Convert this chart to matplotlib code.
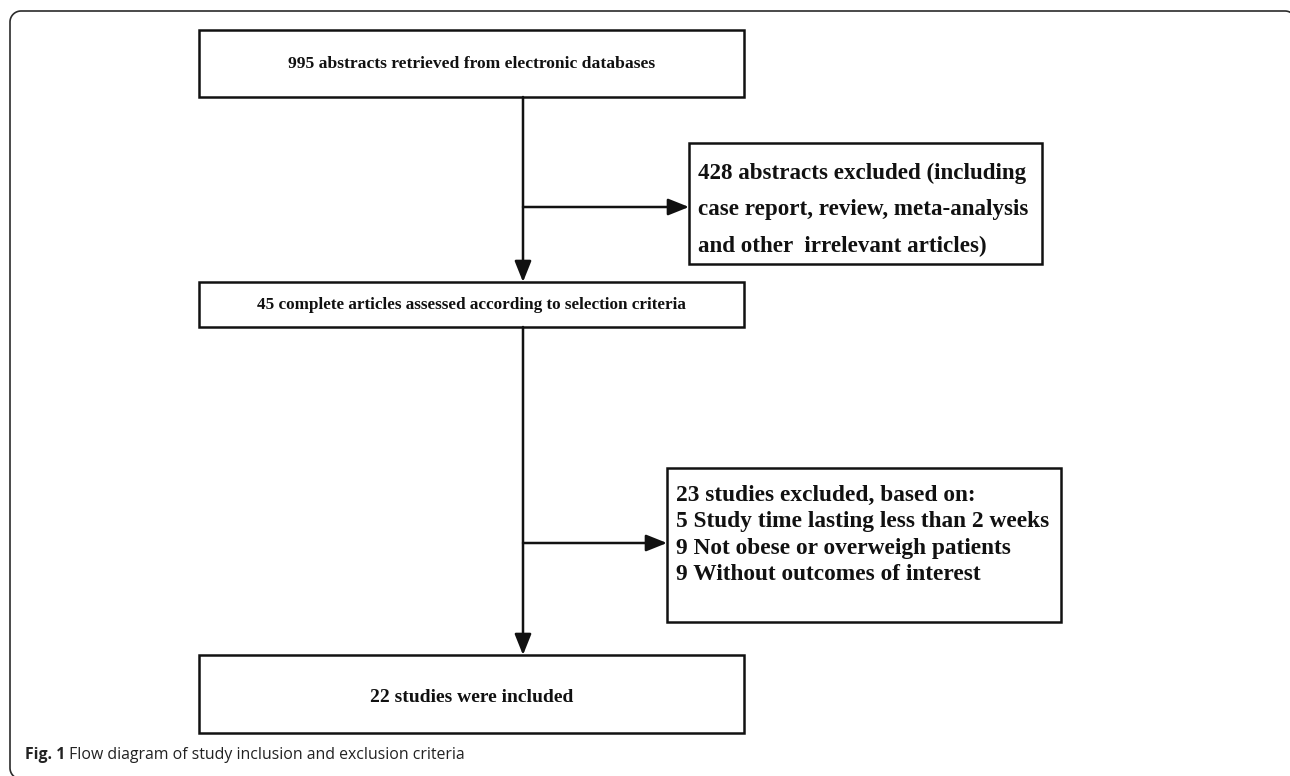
import numpy as np
import matplotlib.pyplot as plt
from matplotlib.patches import Rectangle

# counts from the flow diagram
n_retrieved = 995
n_abstract_excluded = 428
n_full_text = 45
n_study_excluded = 23
n_included = 22
reason_counts = [5, 9, 9]
reason_labels = ['Study time lasting less than 2 weeks',
                 'Not obese or overweigh patients',
                 'Without outcomes of interest']
caption_bold = 'Fig. 1'
caption_text = ' Flow diagram of study inclusion and exclusion criteria'

texts = {
    'top': f'{n_retrieved} abstracts retrieved from electronic databases',
    'excl1': (f'{n_abstract_excluded} abstracts excluded (including\n'
              'case report, review, meta-analysis\n'
              'and other  irrelevant articles)'),
    'mid': f'{n_full_text} complete articles assessed according to selection criteria',
    'excl2': f'{n_study_excluded} studies excluded, based on:\n' +
             '\n'.join(f'{c} {l}' for c, l in zip(reason_counts, reason_labels)),
    'bottom': f'{n_included} studies were included',
}

# box layout in pixels: x0, y0, x1, y1
boxes = {
    'top': (199, 30, 744, 97),
    'excl1': (689, 143, 1042, 264),
    'mid': (199, 282, 744, 327),
    'excl2': (667, 468, 1061, 622),
    'bottom': (199, 655, 744, 733),
}
xc = 523

fig = plt.figure(figsize=(12.9, 7.76), dpi=100)
ax = fig.add_axes([0, 0, 1, 1])
ax.set_xlim(0, 1290)
ax.set_ylim(776, 0)
ax.axis('off')

# outer rounded frame, only the parts that fall inside the picture
fx0, fy0, fx1, fy1, r = 10, 11, 1296, 779, 11
def corner(cx, cy, a0, a1):
    t = np.radians(np.linspace(a0, a1, 20))
    return list(cx + r * np.cos(t)), list(cy + r * np.sin(t))
xs, ys = [], []
for part in [corner(fx0 + r, fy1 - r, 90, 180), corner(fx0 + r, fy0 + r, 180, 270),
             corner(fx1 - r, fy0 + r, 270, 360)]:
    xs += part[0]
    ys += part[1]
xs.append(fx1)
ys.append(776)
ax.plot(xs, ys, color='#2b2b2b', lw=1.2, solid_capstyle='butt')

serif = dict(family='Liberation Serif', weight='bold', color='#111111')

for bx0, by0, bx1, by1 in boxes.values():
    ax.add_patch(Rectangle((bx0, by0), bx1 - bx0, by1 - by0, fill=False, lw=1.8, ec='#111111'))

ax.text((199 + 744) / 2, 64, texts['top'], ha='center', va='center', size=12.6, **serif)
ax.text(698, 210, texts['excl1'], ha='left', va='center', size=16.6, linespacing=1.95, **serif)
ax.text((199 + 744) / 2, 305, texts['mid'], ha='center', va='center', size=12.3, **serif)
ax.text(676, 535, texts['excl2'], ha='left', va='center', size=16.8, linespacing=1.32, **serif)
ax.text((199 + 744) / 2, 698, texts['bottom'], ha='center', va='center', size=14, **serif)

arrow = dict(arrowstyle='-|>,head_length=0.75,head_width=0.3', lw=1.8, color='#111111',
             shrinkA=0, shrinkB=0, mutation_scale=17)

def link(p0, p1):
    ax.annotate('', xy=p1, xytext=p0, arrowprops=arrow)

link((xc, boxes['top'][3]), (xc, boxes['mid'][1]))
link((xc, 207), (boxes['excl1'][0], 207))
link((xc, boxes['mid'][3]), (xc, boxes['bottom'][1]))
link((xc, 543), (boxes['excl2'][0], 543))

# caption
t1 = ax.text(25, 755, caption_bold, family='Open Sans', weight='bold', size=11.4,
             ha='left', va='center', color='#222222')
fig.canvas.draw()
bb = t1.get_window_extent()
x_next = ax.transData.inverted().transform((bb.x1, bb.y0))[0]
ax.text(x_next, 755, caption_text, family='Open Sans', size=11.4,
        ha='left', va='center', color='#222222')

fig.savefig('out.png', dpi=100)
